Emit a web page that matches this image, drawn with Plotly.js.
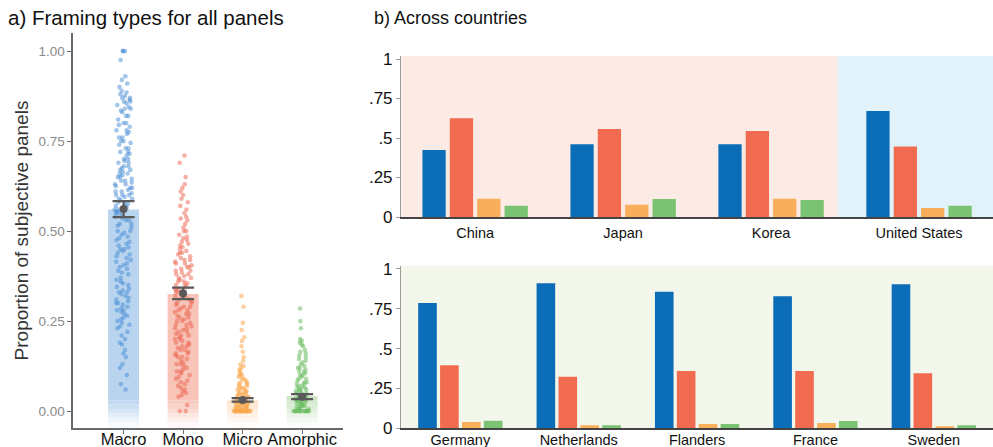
<!DOCTYPE html>
<html>
<head>
<meta charset="utf-8">
<script src="https://cdn.plot.ly/plotly-3.0.1.min.js"></script>
<style>html,body{margin:0;padding:0;background:#fff;}#chart{width:993px;height:447px;}</style>
</head>
<body>
<div id="chart"></div>
<script>
// ---------- DATA ----------
const categories = ['Macro', 'Mono', 'Micro', 'Amorphic'];
const barValues = [0.56, 0.325, 0.031, 0.042];
const meanValues = [0.561, 0.327, 0.031, 0.040];
const errValues = [0.022, 0.016, 0.005, 0.007];

const macroPoints = [1.0, 1.0, 1.0, 0.975, 0.93, 0.92, 0.91, 0.9, 0.89, 0.885, 0.88, 0.875, 0.87, 0.87, 0.865, 0.86, 0.86, 0.855, 0.85, 0.845, 0.84, 0.84, 0.835, 0.83, 0.82, 0.82, 0.81, 0.8, 0.8, 0.795, 0.79, 0.78, 0.78, 0.775, 0.77, 0.76, 0.76, 0.75, 0.75, 0.745, 0.74, 0.73, 0.73, 0.72, 0.72, 0.715, 0.71, 0.7, 0.7, 0.695, 0.69, 0.69, 0.68, 0.68, 0.675, 0.67, 0.67, 0.665, 0.66, 0.66, 0.655, 0.65, 0.65, 0.645, 0.64, 0.64, 0.635, 0.63, 0.63, 0.625, 0.62, 0.62, 0.615, 0.61, 0.61, 0.605, 0.6, 0.6, 0.6, 0.595, 0.59, 0.59, 0.585, 0.58, 0.58, 0.575, 0.57, 0.57, 0.565, 0.56, 0.56, 0.555, 0.55, 0.55, 0.545, 0.54, 0.535, 0.53, 0.53, 0.52, 0.52, 0.515, 0.51, 0.5, 0.5, 0.495, 0.49, 0.485, 0.48, 0.475, 0.47, 0.465, 0.46, 0.455, 0.45, 0.45, 0.445, 0.44, 0.435, 0.43, 0.425, 0.42, 0.415, 0.41, 0.405, 0.4, 0.395, 0.39, 0.385, 0.38, 0.37, 0.365, 0.36, 0.355, 0.35, 0.345, 0.34, 0.335, 0.33, 0.33, 0.325, 0.32, 0.315, 0.31, 0.305, 0.3, 0.3, 0.295, 0.29, 0.285, 0.28, 0.28, 0.275, 0.27, 0.265, 0.26, 0.255, 0.25, 0.245, 0.24, 0.235, 0.23, 0.22, 0.21, 0.2, 0.19, 0.185, 0.17, 0.16, 0.15, 0.13, 0.12, 0.1, 0.075, 0.06];

const monoPoints = [0.71, 0.69, 0.65, 0.63, 0.62, 0.61, 0.6, 0.59, 0.58, 0.57, 0.56, 0.55, 0.54, 0.535, 0.53, 0.52, 0.51, 0.5, 0.5, 0.49, 0.485, 0.48, 0.475, 0.47, 0.465, 0.46, 0.455, 0.45, 0.445, 0.44, 0.44, 0.435, 0.43, 0.425, 0.42, 0.42, 0.415, 0.41, 0.41, 0.405, 0.4, 0.4, 0.395, 0.39, 0.39, 0.385, 0.38, 0.38, 0.375, 0.37, 0.37, 0.365, 0.36, 0.36, 0.355, 0.35, 0.35, 0.345, 0.34, 0.34, 0.335, 0.33, 0.33, 0.325, 0.32, 0.32, 0.315, 0.31, 0.31, 0.305, 0.3, 0.3, 0.295, 0.29, 0.29, 0.285, 0.28, 0.28, 0.275, 0.27, 0.27, 0.265, 0.26, 0.26, 0.255, 0.25, 0.25, 0.245, 0.24, 0.24, 0.235, 0.23, 0.23, 0.225, 0.22, 0.22, 0.215, 0.21, 0.21, 0.205, 0.2, 0.2, 0.195, 0.19, 0.19, 0.185, 0.18, 0.18, 0.175, 0.17, 0.17, 0.165, 0.16, 0.16, 0.155, 0.15, 0.15, 0.145, 0.14, 0.135, 0.13, 0.13, 0.125, 0.12, 0.115, 0.11, 0.11, 0.105, 0.1, 0.095, 0.09, 0.085, 0.08, 0.075, 0.07, 0.065, 0.06, 0.055, 0.05, 0.045, 0.04, 0.017, 0.0, 0.0];

const microPoints = [0.32, 0.29, 0.245, 0.225, 0.205, 0.195, 0.18, 0.165, 0.15, 0.14, 0.13, 0.125, 0.12, 0.115, 0.11, 0.105, 0.1, 0.1, 0.095, 0.09, 0.09, 0.085, 0.08, 0.08, 0.075, 0.075, 0.07, 0.07, 0.065, 0.065, 0.06, 0.06, 0.06, 0.055, 0.055, 0.05, 0.05, 0.05, 0.045, 0.045, 0.045, 0.04, 0.04, 0.04, 0.04, 0.035, 0.035, 0.035, 0.03, 0.03, 0.03, 0.03, 0.025, 0.025, 0.025, 0.025, 0.02, 0.02, 0.02, 0.02, 0.02, 0.015, 0.015, 0.015, 0.015, 0.01, 0.01, 0.01, 0.01, 0.01, 0.005, 0.005, 0.005, 0.005, 0, 0, 0, 0, 0, 0, 0, 0, 0, 0, 0, 0, 0, 0, 0, 0, 0, 0, 0, 0, 0, 0, 0, 0];

const amorphicPoints = [0.285, 0.25, 0.23, 0.2, 0.195, 0.19, 0.185, 0.18, 0.17, 0.165, 0.16, 0.155, 0.15, 0.145, 0.14, 0.135, 0.13, 0.125, 0.12, 0.12, 0.115, 0.11, 0.11, 0.105, 0.1, 0.1, 0.095, 0.09, 0.09, 0.085, 0.08, 0.08, 0.075, 0.075, 0.07, 0.07, 0.065, 0.065, 0.06, 0.06, 0.06, 0.055, 0.055, 0.05, 0.05, 0.05, 0.045, 0.045, 0.04, 0.04, 0.04, 0.035, 0.035, 0.035, 0.03, 0.03, 0.03, 0.025, 0.025, 0.025, 0.02, 0.02, 0.02, 0.015, 0.015, 0.015, 0.01, 0.01, 0.01, 0.005, 0.005, 0, 0, 0, 0, 0, 0, 0, 0, 0, 0, 0, 0, 0, 0];

const countriesTop = ['China', 'Japan', 'Korea', 'United States'];
const topMacro = [0.424, 0.46, 0.46, 0.671];
const topMono = [0.625, 0.557, 0.544, 0.447];
const topMicro = [0.116, 0.078, 0.116, 0.057];
const topAmorphic = [0.072, 0.114, 0.108, 0.072];

const countriesBottom = ['Germany', 'Netherlands', 'Flanders', 'France', 'Sweden'];
const botMacro = [0.786, 0.91, 0.857, 0.828, 0.903];
const botMono = [0.396, 0.323, 0.36, 0.36, 0.346];
const botMicro = [0.04, 0.019, 0.027, 0.033, 0.013];
const botAmorphic = [0.048, 0.019, 0.027, 0.046, 0.019];

const rightTickVals = [0, 0.25, 0.5, 0.75, 1];
const rightTickText = ['0', '.25', '.5', '.75', '1'];
const leftTickVals = [0, 0.25, 0.5, 0.75, 1];

// ---------- STYLE ----------
const FONT = 'Liberation Sans, Arial, Helvetica, sans-serif';
const lightBar = ['#b9d4ef', '#f7c4b7', '#fde2c5', '#cfe7c8'];
const pointCol = ['rgba(70,140,214,0.5)', 'rgba(238,98,78,0.5)', 'rgba(250,168,78,0.55)', 'rgba(108,190,98,0.55)'];
const darkCol = ['#0b6db7', '#f06b4f', '#f9ae5b', '#79c373'];
const fadeTop = 0.03;
const fadeStops = [0.03, 0.018, 0.006, -0.006, -0.018, -0.03, -0.047];
const fadeOpac = [0.88, 0.74, 0.58, 0.42, 0.26, 0.1];

const traces = [];

traces.push({
  type: 'bar', x: categories, y: barValues.map(v => v - fadeTop), base: categories.map(() => fadeTop),
  xaxis: 'x', yaxis: 'y', width: 0.52, offsetgroup: 'L',
  marker: {color: lightBar, line: {width: 0}}, hoverinfo: 'skip', showlegend: false
});
for (let i = 0; i < fadeOpac.length; i++) {
  traces.push({
    type: 'bar', x: categories,
    y: categories.map(() => fadeStops[i] - fadeStops[i + 1]),
    base: categories.map(() => fadeStops[i + 1]),
    xaxis: 'x', yaxis: 'y', width: 0.52, offsetgroup: 'L',
    marker: {color: lightBar, opacity: fadeOpac[i], line: {width: 0}}, hoverinfo: 'skip', showlegend: false
  });
}
const pointSets = [macroPoints, monoPoints, microPoints, amorphicPoints];
pointSets.forEach((pts, i) => {
  traces.push({
    type: 'box', y: pts, x: pts.map(() => categories[i]), name: categories[i],
    xaxis: 'x', yaxis: 'y', boxpoints: 'all', jitter: 1, pointpos: 0, width: 0.3,
    fillcolor: 'rgba(0,0,0,0)', line: {width: 0, color: 'rgba(0,0,0,0)'}, whiskerwidth: 0,
    marker: {color: pointCol[i], size: 4.6, line: {width: 0}}, hoverinfo: 'skip', showlegend: false
  });
});
traces.push({
  type: 'scatter', mode: 'markers', x: categories, y: meanValues, xaxis: 'x', yaxis: 'y',
  marker: {color: '#5a5a5a', size: 8},
  error_y: {type: 'data', array: errValues, visible: true, color: '#5a5a5a', thickness: 2.2, width: 11},
  hoverinfo: 'skip', showlegend: false
});

const topSeries = [topMacro, topMono, topMicro, topAmorphic];
topSeries.forEach((s, i) => {
  traces.push({type: 'bar', x: countriesTop, y: s, xaxis: 'x2', yaxis: 'y2',
    marker: {color: darkCol[i], line: {width: 0}}, hoverinfo: 'skip', showlegend: false});
});
const botSeries = [botMacro, botMono, botMicro, botAmorphic];
botSeries.forEach((s, i) => {
  traces.push({type: 'bar', x: countriesBottom, y: s, xaxis: 'x3', yaxis: 'y3',
    marker: {color: darkCol[i], line: {width: 0}}, hoverinfo: 'skip', showlegend: false});
});

const rightY = {
  showline: true, linecolor: '#9a9a9a', linewidth: 1.2, ticks: 'outside', ticklen: 4, tickcolor: '#9a9a9a',
  tickvals: rightTickVals, ticktext: rightTickText, showgrid: false, zeroline: false,
  tickfont: {family: FONT, size: 17, color: '#111'}, fixedrange: true
};
const rightX = {
  showline: true, linecolor: '#444', linewidth: 1.5, ticks: 'outside', ticklen: 4, tickcolor: 'rgba(0,0,0,0)',
  showgrid: false, zeroline: false, tickfont: {family: FONT, size: 14.5, color: '#111'}, fixedrange: true
};

const layout = {
  width: 993, height: 447,
  margin: {l: 0, r: 0, t: 0, b: 0},
  paper_bgcolor: '#fff', plot_bgcolor: 'rgba(0,0,0,0)',
  barmode: 'group', bargap: 0.26, bargroupgap: 0.15, boxmode: 'overlay',
  font: {family: FONT},
  showlegend: false,
  xaxis: {
    domain: [0.0735, 0.345], anchor: 'y', range: [-0.85, 3.68], type: 'category',
    categoryorder: 'array', categoryarray: categories,
    showline: true, linecolor: '#6a6a6a', linewidth: 1.5, ticks: 'outside', ticklen: 4, tickcolor: '#6a6a6a',
    ticklabelstandoff: -8,
    showgrid: false, zeroline: false, tickfont: {family: FONT, size: 16.5, color: '#111'}, fixedrange: true
  },
  yaxis: {
    domain: [0.0425, 0.926], anchor: 'x', range: [-0.047, 1.05],
    tickvals: leftTickVals, tickformat: '.2f',
    showline: true, linecolor: '#6a6a6a', linewidth: 1.5, ticks: 'outside', ticklen: 4, tickcolor: '#6a6a6a',
    showgrid: false, zeroline: false, tickfont: {family: FONT, size: 13.5, color: '#8a8a8a'},
    title: {text: 'Proportion of subjective panels', font: {family: FONT, size: 19, color: '#333'}, standoff: 5},
    fixedrange: true
  },
  xaxis2: Object.assign({}, rightX, {domain: [0.404, 1.0], anchor: 'y2', range: [-0.5, 3.5], type: 'category',
    categoryorder: 'array', categoryarray: countriesTop, ticklabelstandoff: -2}),
  yaxis2: Object.assign({}, rightY, {domain: [0.5145, 0.8747], anchor: 'x2', range: [0, 1.019]}),
  xaxis3: Object.assign({}, rightX, {domain: [0.404, 1.0], anchor: 'y3', range: [-0.5, 4.5], type: 'category',
    categoryorder: 'array', categoryarray: countriesBottom, ticklen: 1, ticklabelstandoff: -3}),
  yaxis3: Object.assign({}, rightY, {domain: [0.0418, 0.4057], anchor: 'x3', range: [0, 1.02]}),
  shapes: [
    {type: 'rect', xref: 'x2', yref: 'y2 domain', x0: -0.5, x1: 2.45, y0: 0, y1: 1, fillcolor: '#fceae4', line: {width: 0}, layer: 'below'},
    {type: 'rect', xref: 'x2', yref: 'y2 domain', x0: 2.45, x1: 3.5, y0: 0, y1: 1, fillcolor: '#e2f2fb', line: {width: 0}, layer: 'below'},
    {type: 'rect', xref: 'x3 domain', yref: 'y3 domain', x0: 0, x1: 1, y0: 0, y1: 1, fillcolor: '#f3f7eb', line: {width: 0}, layer: 'below'}
  ],
  annotations: [
    {text: 'a) Framing types for all panels', xref: 'paper', yref: 'paper', x: 0.006, y: 0.96,
      xanchor: 'left', yanchor: 'middle', showarrow: false, font: {family: FONT, size: 20.5, color: '#111'}},
    {text: 'b) Across countries', xref: 'paper', yref: 'paper', x: 0.3746, y: 0.96,
      xanchor: 'left', yanchor: 'middle', showarrow: false, font: {family: FONT, size: 18, color: '#111'}}
  ]
};

Plotly.newPlot('chart', traces, layout, {displayModeBar: false, staticPlot: true});
</script>
</body>
</html>
